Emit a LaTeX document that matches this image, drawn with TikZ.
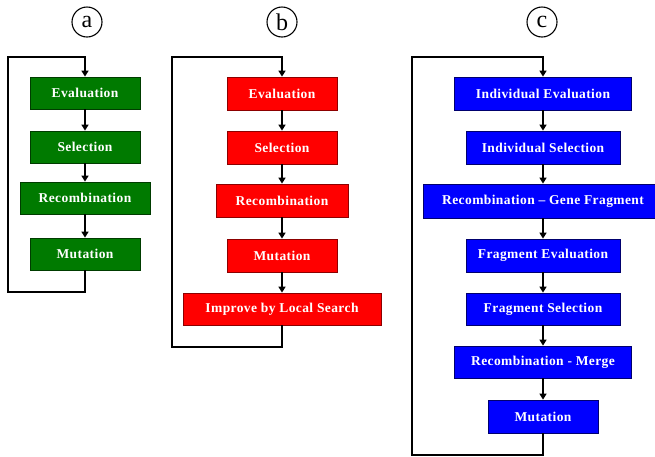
\documentclass[tikz,border=0pt]{standalone}
\usepackage{fontspec}
\setmainfont{Liberation Serif}
\newfontfamily\boxfont[LetterSpace=3]{Liberation Serif}
\usetikzlibrary{arrows.meta}
\definecolor{gfill}{RGB}{0,122,0}
\definecolor{gline}{RGB}{0,60,0}
\definecolor{rfill}{RGB}{255,0,0}
\definecolor{rline}{RGB}{140,0,0}
\definecolor{bfill}{RGB}{0,0,255}
\definecolor{bline}{RGB}{0,0,110}
\tikzset{
  box/.style={rectangle, draw, line width=0.8pt, text=white, inner sep=0pt,
    font=\boxfont\bfseries\fontsize{13.5}{15}\selectfont},
  gbox/.style={box, fill=gfill, draw=gline},
  rbox/.style={box, fill=rfill, draw=rline},
  bbox/.style={box, fill=bfill, draw=bline},
  arr/.style={line width=2.4pt, -{Triangle[width=7pt,length=6pt]}},
  loopline/.style={line width=1.8pt, -{Triangle[width=7pt,length=6pt]}},
  lab/.style={circle, draw, line width=1.1pt, minimum size=30pt, inner sep=0pt,
    font=\fontsize{24}{24}\selectfont}
}
\begin{document}
\begin{tikzpicture}[x=1pt,y=-1pt]
\useasboundingbox (0,0) rectangle (655,456);
\clip (0,0) rectangle (655,456);
% labels
\node[lab] (la) at (87,22) {a};
\node[lab] (lb) at (282,22) {b};
\node[lab] (lc) at (542,22) {c};
% panel a
\node[gbox, minimum width=110pt, minimum height=32pt] (ea) at (85,93) {Evaluation};
\node[gbox, minimum width=110pt, minimum height=32pt] (sa) at (85,147) {Selection};
\node[gbox, minimum width=130pt, minimum height=32pt] (ra) at (85,198) {Recombination};
\node[gbox, minimum width=110pt, minimum height=32pt] (ma) at (85,254) {Mutation};
\coordinate (a1) at (8,292);
\coordinate (a2) at (8,57);
\draw[arr] (ea) -- (sa);
\draw[arr] (sa) -- (ra);
\draw[arr] (ra) -- (ma);
\draw[loopline] (ma.south) |- (a1) -- (a2) -| (ea.north);
% panel b
\node[rbox, minimum width=110pt, minimum height=33pt] (eb) at (282,93.5) {Evaluation};
\node[rbox, minimum width=110pt, minimum height=33pt] (sb) at (282,147.5) {Selection};
\node[rbox, minimum width=132pt, minimum height=33pt] (rb) at (282,200.5) {Recombination};
\node[rbox, minimum width=110pt, minimum height=33pt] (mb) at (282,255.5) {Mutation};
\node[rbox, minimum width=198pt, minimum height=32pt] (ib) at (282,309) {Improve by Local Search};
\coordinate (b1) at (172,347);
\coordinate (b2) at (172,57);
\draw[arr] (eb) -- (sb);
\draw[arr] (sb) -- (rb);
\draw[arr] (rb) -- (mb);
\draw[arr] (mb) -- (ib);
\draw[loopline] (ib.south) |- (b1) -- (b2) -| (eb.north);
% panel c
\node[bbox, minimum width=177pt, minimum height=33pt] (c1) at (543,93.5) {Individual Evaluation};
\node[bbox, minimum width=154pt, minimum height=33pt] (c2) at (543,147.5) {Individual Selection};
\node[bbox, minimum width=240pt, minimum height=34pt] (c3) at (543,201) {Recombination – Gene Fragment};
\node[bbox, minimum width=154pt, minimum height=33pt] (c4) at (543,255.5) {Fragment Evaluation};
\node[bbox, minimum width=154pt, minimum height=32pt] (c5) at (543,309) {Fragment Selection};
\node[bbox, minimum width=177pt, minimum height=32pt] (c6) at (543,362) {Recombination - Merge};
\node[bbox, minimum width=110pt, minimum height=33pt] (c7) at (543,416.5) {Mutation};
\coordinate (cl1) at (412,455);
\coordinate (cl2) at (412,57);
\draw[arr] (c1) -- (c2);
\draw[arr] (c2) -- (c3);
\draw[arr] (c3) -- (c4);
\draw[arr] (c4) -- (c5);
\draw[arr] (c5) -- (c6);
\draw[arr] (c6) -- (c7);
\draw[loopline] (c7.south) |- (cl1) -- (cl2) -| (c1.north);
\end{tikzpicture}
\end{document}
